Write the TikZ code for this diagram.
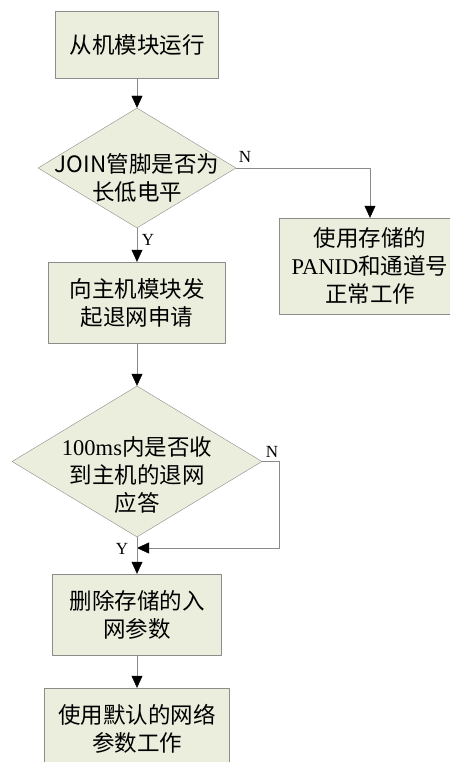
\documentclass[tikz,border=0pt]{standalone}
\usepackage{fontspec}
\newfontfamily\cjk{Noto Sans CJK SC}
\newfontfamily\latn{Liberation Serif}
\usetikzlibrary{arrows.meta,shapes.geometric}
\definecolor{boxfill}{HTML}{EBEEDD}
\definecolor{edgegray}{HTML}{8C8C8C}
\definecolor{linegray}{HTML}{8A8A8A}

\begin{document}
\begin{tikzpicture}[
    x = 1pt, y = -1pt,
    line join=round,
    txt/.style = {font=\cjk\fontsize{22.5}{28}\selectfont, align=center},
    procbox/.style = {txt, draw=edgegray, fill=boxfill, inner sep=0pt},
    decide/.style = {diamond, draw=edgegray, fill=boxfill, inner sep=0pt},
    flow/.style = {draw=linegray, -{Triangle[color=black, length=12pt, width=11pt]}},
    yn/.style = {font=\latn\fontsize{17}{17}\selectfont, inner sep=0pt}
]

\useasboundingbox (0,0) rectangle (450,762);
\clip (0,0) rectangle (450,762);

\node[procbox, minimum width=163pt, minimum height=67pt] (start) at (137,44.5) {从机模块运行};
\node[decide, minimum width=198pt, minimum height=120pt,
      label={[txt, yshift=-10pt]center:{JOIN管脚是否为\\长低电平}}] (chk) at (137,168) {};
\node[procbox, minimum width=182pt, minimum height=96pt] (keep) at (370,266) {使用存储的\\{\latn PANID}和通道号\\正常工作};
\node[procbox, minimum width=177pt, minimum height=81pt] (req) at (137,302.5) {向主机模块发\\起退网申请};
\node[decide, minimum width=250pt, minimum height=151pt,
      label={[txt, yshift=-14pt]center:{{\latn 100ms}内是否收\\到主机的退网\\应答}}] (ack) at (137,461.5) {};
\node[procbox, minimum width=169pt, minimum height=81pt] (del) at (137,614.5) {删除存储的入\\网参数};
\node[procbox, minimum width=185pt, minimum height=82pt] (dflt) at (137,729) {使用默认的网络\\参数工作};

\coordinate (mrg) at (137,548);

% connectors
\draw[flow] (start) -- (chk);
\draw[flow] (chk.east) -| (keep);
\draw[flow] (chk) -- (req);
\draw[flow] (req) -- (ack);
\draw[flow] (ack.east) -- ++(17,0) |- (mrg);
\draw[flow] (ack) -- (del);
\draw[flow] (del) -- (dflt);

\node[yn] (n1) at (245,157) {N};
\node[yn] (y1) at (148,240) {Y};
\node[yn] (n2) at (272,452) {N};
\node[yn] (y2) at (122,549) {Y};

\end{tikzpicture}
\end{document}
